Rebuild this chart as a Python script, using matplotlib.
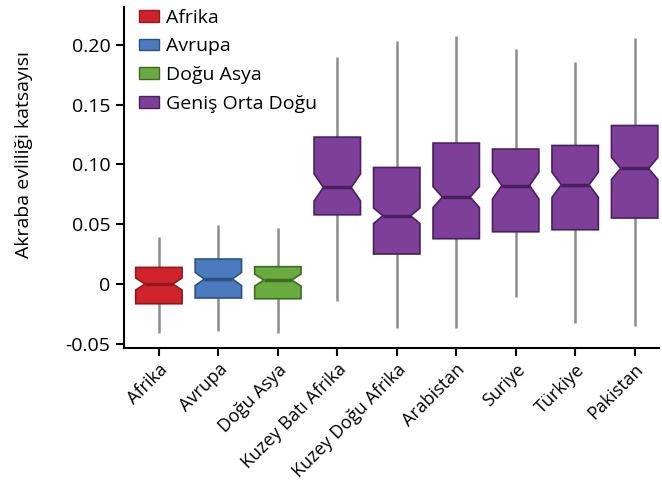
import numpy as np
import matplotlib
matplotlib.use("Agg")
from matplotlib import pyplot as plt
from matplotlib.patches import Patch

plt.rcParams['font.family'] = ['Open Sans', 'DejaVu Sans']

# categories and box statistics
labels = ['Afrika', 'Avrupa', 'Doğu Asya', 'Kuzey Batı Afrika', 'Kuzey Doğu Afrika',
          'Arabistan', 'Suriye', 'Türkiye', 'Pakistan']
groups = [0, 1, 2, 3, 3, 3, 3, 3, 3]
whis_lo = [-0.041, -0.039, -0.041, -0.0145, -0.0371, -0.0371, -0.0109, -0.0326, -0.0354]
q1 = [-0.0165, -0.0117, -0.0123, 0.0579, 0.0251, 0.0379, 0.0437, 0.0454, 0.0552]
med = [0.0, 0.0042, 0.0033, 0.0808, 0.0571, 0.0727, 0.0824, 0.0830, 0.0967]
q3 = [0.0139, 0.0209, 0.0145, 0.1229, 0.0975, 0.1179, 0.1129, 0.1159, 0.1326]
whis_hi = [0.039, 0.049, 0.0468, 0.190, 0.2029, 0.2076, 0.1967, 0.1859, 0.2062]
notch = [0.005, 0.0055, 0.005, 0.0113, 0.0065, 0.0088, 0.0113, 0.0105, 0.0092]

group_names = ['Afrika', 'Avrupa', 'Doğu Asya', 'Geniş Orta Doğu']
face_colors = ['#d0222a', '#4a7bbf', '#6aab3f', '#7e3f98']
edge_colors = ['#8e1a20', '#2f5180', '#3f6a25', '#4a1f5e']

fig = plt.figure(figsize=(6.62, 4.86), dpi=100)
ax = fig.add_axes([0.187, 0.284, 0.8085, 0.702])

w = 0.39   # half box width
wn = 0.6 * w  # half width at the median (notch)
for i in range(len(labels)):
    x = i + 1
    g = groups[i]
    ax.vlines(x, whis_lo[i], whis_hi[i], color='#8c8c8c', lw=1.8, zorder=1)
    xs = [x - w, x + w, x + w, x + wn, x + w, x + w, x - w, x - w, x - wn, x - w]
    ys = [q1[i], q1[i], med[i] - notch[i], med[i], med[i] + notch[i], q3[i], q3[i],
          med[i] + notch[i], med[i], med[i] - notch[i]]
    ax.fill(xs, ys, facecolor=face_colors[g], edgecolor=edge_colors[g], lw=1.2, zorder=2)
    ax.hlines(med[i], x - wn, x + wn, color=edge_colors[g], lw=2.5, zorder=3)

ax.set_xlim(0.41, 9.41)
ax.set_ylim(-0.0535, 0.2319)
ax.set_yticks([-0.05, 0, 0.05, 0.10, 0.15, 0.20])
ax.set_yticklabels(['-0.05', '0', '0.05', '0.10', '0.15', '0.20'])
ax.set_xticks(range(1, len(labels) + 1))
ax.set_xticklabels(labels, rotation=45, ha='right', rotation_mode='anchor')
ax.tick_params(labelsize=14, width=1.5, length=6, direction='out')
ax.tick_params(axis='x', labelsize=13, pad=3)
for s in ['top', 'right']:
    ax.spines[s].set_visible(False)
for s in ['left', 'bottom']:
    ax.spines[s].set_linewidth(1.5)
ax.set_ylabel('Akraba evliliği katsayısı', fontsize=14)
ax.yaxis.set_label_coords(-0.17, 0.566)

handles = [Patch(facecolor=face_colors[k], edgecolor=edge_colors[k]) for k in range(4)]
ax.legend(handles, group_names, loc='upper left', bbox_to_anchor=(0.0, 1.04),
          frameon=False, fontsize=14, handlelength=1.0, handleheight=0.55,
          handletextpad=0.35, labelspacing=0.55, borderaxespad=0.4)

fig.savefig('out.png', dpi=100)
